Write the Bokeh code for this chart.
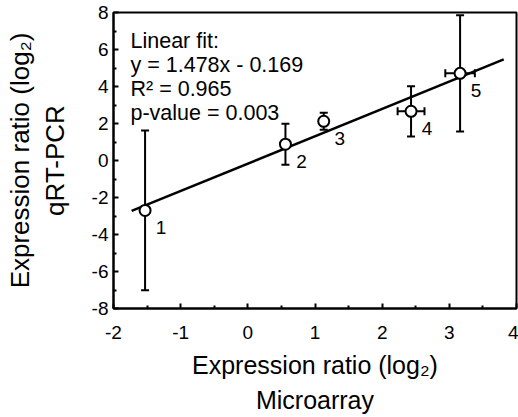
import math

from bokeh.embed import file_html
from bokeh.models import FixedTicker, Label, LinearAxis, Range1d
from bokeh.plotting import figure
from bokeh.resources import INLINE

# Microarray vs qRT-PCR expression ratios (log2) for five genes
gene_ids = ["1", "2", "3", "4", "5"]
microarray = [-1.53, 0.56, 1.13, 2.43, 3.16]
microarray_err = [0.0, 0.0, 0.0, 0.20, 0.22]
qrtpcr = [-2.70, 0.88, 2.12, 2.66, 4.71]
qrtpcr_err = [4.32, 1.11, 0.46, 1.36, 3.14]

# Linear fit reported on the chart
fit_slope = 1.478
fit_intercept = -0.169
fit_r2 = 0.965
fit_p = 0.003
fit_x_span = [-1.73, 3.81]

x_ticks = [-2, -1, 0, 1, 2, 3, 4]
x_minor = [-1.5, -0.5, 0.5, 1.5, 2.5, 3.5]
y_ticks = [-8, -6, -4, -2, 0, 2, 4, 6, 8]
y_minor = [-7, -5, -3, -1, 1, 3, 5, 7]

ratio_title = "Expression ratio (log\u2082)"
x_method = "Microarray"
y_method = "qRT-PCR"

FONT = "Liberation Sans"
X_RANGE = (-2, 4)
Y_RANGE = (-8, 8)
W, H = 518, 417
BORDER_L, BORDER_R, BORDER_T, BORDER_B = 113, 2, 12, 109
FRAME_L, FRAME_R = BORDER_L, W - BORDER_R
FRAME_T, FRAME_B = BORDER_T, H - BORDER_B


def dx(px):
    """Canvas pixel column -> x data value."""
    return X_RANGE[0] + (px - FRAME_L) * (X_RANGE[1] - X_RANGE[0]) / (FRAME_R - FRAME_L)


def dy(py):
    """Canvas pixel row -> y data value."""
    return Y_RANGE[1] - (py - FRAME_T) * (Y_RANGE[1] - Y_RANGE[0]) / (FRAME_B - FRAME_T)


p = figure(
    width=W, height=H,
    x_range=Range1d(*X_RANGE), y_range=Range1d(*Y_RANGE),
    output_backend="svg", toolbar_location=None,
    min_border_left=BORDER_L, min_border_right=BORDER_R,
    min_border_top=BORDER_T, min_border_bottom=BORDER_B,
    background_fill_color="white", border_fill_color="white",
)
p.grid.visible = False
p.outline_line_color = "black"
p.outline_line_width = 2

p.xaxis.ticker = FixedTicker(ticks=x_ticks, minor_ticks=x_minor)
p.yaxis.ticker = FixedTicker(ticks=y_ticks, minor_ticks=y_minor)
p.xaxis.major_label_overrides = {t: str(t) for t in x_ticks}
p.yaxis.major_label_overrides = {t: str(t) for t in y_ticks}
for ax in (p.xaxis, p.yaxis):
    ax.axis_line_color = "black"
    ax.axis_line_width = 2
    ax.major_tick_line_width = 2
    ax.minor_tick_line_width = 2
    ax.major_tick_in = 5
    ax.major_tick_out = 0
    ax.minor_tick_in = 3
    ax.minor_tick_out = 0
    ax.major_label_text_font = FONT
    ax.major_label_text_font_size = "19px"
    ax.major_label_text_color = "black"
    ax.axis_label_text_font = FONT
    ax.axis_label_text_font_style = "normal"
    ax.axis_label_text_color = "black"
p.xaxis.major_label_standoff = 17
p.yaxis.major_label_standoff = 5

# Inner titles sit on the tick axes
p.xaxis.axis_label = ratio_title
p.xaxis.axis_label_text_font_size = "25px"
p.xaxis.axis_label_standoff = 9

p.yaxis.axis_label = y_method
p.yaxis.axis_label_text_font_size = "26px"
p.yaxis.axis_label_standoff = 19


def title_axis(text, size, standoff):
    """Bare axis that only carries a second title line."""
    ax = LinearAxis(ticker=FixedTicker(ticks=[]), axis_label=text)
    ax.axis_line_color = None
    ax.major_tick_in = 0
    ax.major_tick_out = 0
    ax.minor_tick_in = 0
    ax.minor_tick_out = 0
    ax.major_label_standoff = 0
    ax.axis_label_standoff = standoff
    ax.axis_label_text_font = FONT
    ax.axis_label_text_font_size = size
    ax.axis_label_text_font_style = "normal"
    ax.axis_label_text_color = "black"
    return ax


p.add_layout(title_axis(x_method, "25px", 4), "below")
p.add_layout(title_axis(ratio_title, "26px", 2), "left")

# Fit line
fit_y_span = [fit_slope * x + fit_intercept for x in fit_x_span]
p.line(fit_x_span, fit_y_span, line_color="black", line_width=2.5)

# Vertical error bars with caps
lo = [y - e for y, e in zip(qrtpcr, qrtpcr_err)]
hi = [y + e for y, e in zip(qrtpcr, qrtpcr_err)]
p.segment(microarray, lo, microarray, hi, line_color="black", line_width=2)
p.scatter(microarray + microarray, lo + hi, marker="dash", size=8,
          line_color="black", line_width=2)

# Horizontal error bars where the microarray spread is shown
hx = [(x, y, e) for x, y, e in zip(microarray, qrtpcr, microarray_err) if e > 0]
hx0 = [x - e for x, _, e in hx]
hx1 = [x + e for x, _, e in hx]
hy = [y for _, y, _ in hx]
p.segment(hx0, hy, hx1, hy, line_color="black", line_width=2)
p.scatter(hx0 + hx1, hy + hy, marker="dash", size=8, angle=math.pi / 2,
          line_color="black", line_width=2)

# Open circle markers
p.scatter(microarray, qrtpcr, marker="circle", size=11, fill_color="white",
          line_color="black", line_width=2)

# Gene numbers next to each point
for gid, x, y in zip(gene_ids, microarray, qrtpcr):
    p.add_layout(Label(x=x, y=y, text=gid, x_offset=16, y_offset=-17,
                       text_align="center", text_baseline="middle",
                       text_font=FONT, text_font_size="19px", text_color="black"))

# Fit summary block
fit_lines = [
    "Linear fit:",
    f"y = {fit_slope:.3f}x - {abs(fit_intercept):.3f}",
    f"R\u00b2 = {fit_r2:.3f}",
    f"p-value = {fit_p:.3f}",
]
for i, line in enumerate(fit_lines):
    p.add_layout(Label(x=dx(130), y=dy(40 + 24 * i), text=line,
                       text_align="left", text_baseline="alphabetic",
                       text_font=FONT, text_font_size="21.5px", text_color="black"))

open("out.html", "w").write(file_html(p, INLINE))
